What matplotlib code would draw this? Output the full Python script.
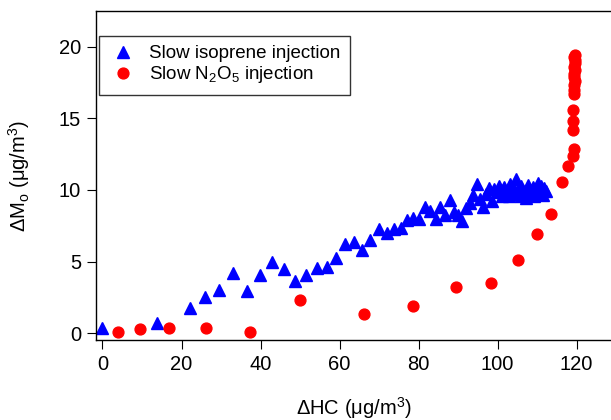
import matplotlib
matplotlib.use("Agg")
import matplotlib.pyplot as plt

plt.rcParams["font.family"] = ["Liberation Sans", "DejaVu Sans"]
plt.rcParams["mathtext.fontset"] = "custom"
plt.rcParams["mathtext.rm"] = "Liberation Sans"
plt.rcParams["mathtext.it"] = "Liberation Sans:italic"

# --- data ------------------------------------------------------------------
iso_hc = [0.0, 13.8, 22.1, 25.9, 29.6, 33.1, 36.6, 39.8, 42.9, 45.9, 48.8,
          51.6, 54.2, 56.7, 59.1, 61.4, 63.6, 65.7, 67.8, 70.1, 72.0, 73.8,
          75.5, 77.0, 78.6, 80.1, 81.5, 82.9, 84.3, 85.5, 86.7, 87.9, 88.9,
          90.0, 91.0, 92.1, 93.1, 93.8, 94.7, 95.6, 96.3, 97.0, 97.7, 98.5,
          99.1, 99.9, 100.8, 101.2, 101.7, 102.4, 103.1, 103.7, 104.6, 105.1,
          105.8, 106.5, 107.3, 107.7, 108.2, 109.0, 109.6, 110.3, 110.9,
          111.4, 111.8, 112.2, 100.3, 102.9, 104.2, 106.0, 108.6, 110.0,
          111.1, 109.3]
iso_mo = [0.34, 0.69, 1.78, 2.55, 3.02, 4.23, 2.97, 4.05, 4.96, 4.49, 3.65,
          4.07, 4.58, 4.61, 5.28, 6.26, 6.40, 5.82, 6.50, 7.27, 6.96, 7.30,
          7.32, 7.92, 8.06, 7.99, 8.80, 8.55, 7.99, 8.78, 8.27, 9.29, 8.45,
          8.27, 7.80, 8.73, 9.08, 9.64, 10.41, 9.38, 8.78, 9.71, 10.13, 9.20,
          10.06, 9.83, 10.01, 9.55, 10.20, 9.90, 10.41, 9.71, 10.76, 10.01,
          10.29, 9.90, 9.43, 10.36, 10.01, 10.24, 9.78, 10.48, 10.01, 9.66,
          10.13, 9.90, 10.25, 9.60, 10.05, 9.60, 9.75, 9.70, 10.30, 9.60]

n2o5_hc = [3.9, 9.5, 16.8, 26.1, 37.3, 49.9, 66.3, 78.7, 89.4, 98.2, 105.1,
           109.9, 113.6, 116.3, 117.9, 119.0, 119.4, 119.2, 119.2, 119.2,
           119.3, 119.4, 119.3, 119.5, 119.4, 119.3, 119.5, 119.4, 119.6,
           119.5, 119.4, 119.5]
n2o5_mo = [0.10, 0.29, 0.38, 0.38, 0.10, 2.30, 1.32, 1.90, 3.21, 3.49, 5.12,
           6.89, 8.31, 10.59, 11.69, 12.39, 12.86, 14.21, 14.79, 15.59,
           16.70, 17.00, 17.30, 17.60, 17.90, 18.10, 18.40, 18.60, 18.90,
           19.10, 19.30, 19.45]

x_ticks = [0, 20, 40, 60, 80, 100, 120]
y_ticks = [0, 5, 10, 15, 20]

# --- figure -----------------------------------------------------------------
W, H = 611, 420
fig = plt.figure(figsize=(W / 100, H / 100), dpi=100)
left, right, top, bottom = 95.7, 613, 11, 340.3
ax = fig.add_axes([left / W, 1 - bottom / H, (right - left) / W, (bottom - top) / H])

ax.plot(iso_hc, iso_mo, ls="none", marker="^", ms=8.3, color="#0000ff",
        mec="#0000ff", label="Slow isoprene injection", clip_on=False)
ax.plot(n2o5_hc, n2o5_mo, ls="none", marker="o", ms=7.8, color="#ff0000",
        mec="#ff0000", label="Slow N$_2$O$_5$ injection", clip_on=False)

ax.set_xlim(-1.72, 129.2)
ax.set_ylim(-0.5, 22.5)
ax.set_xticks(x_ticks)
ax.set_yticks(y_ticks)
ax.tick_params(direction="out", length=6.5, width=0.8, labelsize=14.5,
               colors="black", pad=4)
for s in ("left", "bottom", "top"):
    ax.spines[s].set_linewidth(1.0)
ax.spines["right"].set_visible(False)

ax.set_xlabel("\u0394HC (\u03bcg/m$^3$)", fontsize=14.5, labelpad=15)
ax.set_ylabel("\u0394M$_\\mathrm{o}$ (\u03bcg/m$^3$)", fontsize=14.5, labelpad=19)

leg = ax.legend(loc="upper left", bbox_to_anchor=(0.0064, 0.925),
                borderaxespad=0, fontsize=13.5, frameon=True, fancybox=False,
                handlelength=1.6, handletextpad=0.58, borderpad=0.5,
                labelspacing=0.12, numpoints=1)
leg.get_frame().set_edgecolor("black")
leg.get_frame().set_linewidth(1.0)

fig.savefig("out.png", dpi=100)
